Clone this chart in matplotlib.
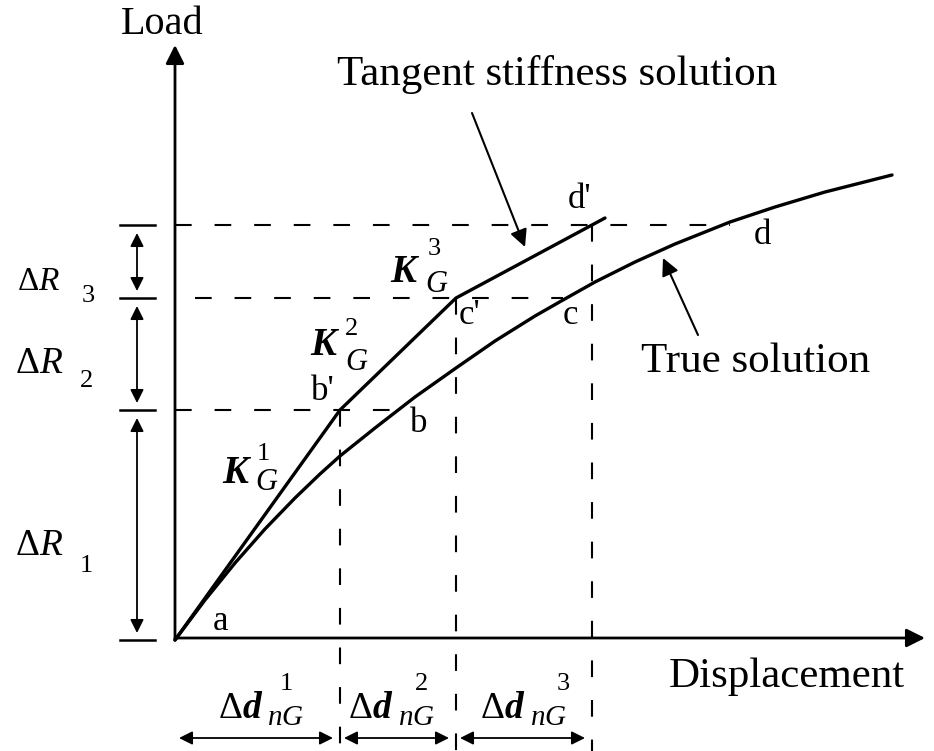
import matplotlib
matplotlib.use("Agg")
import matplotlib.pyplot as plt

# data in "pixel-like" units measured from the origin (a)
true_disp = [0, 30, 60, 90, 120, 145, 165, 200, 240, 281, 320, 360, 388,
             420, 460, 500, 555, 600, 650, 717]
true_load = [0, 40, 77, 111, 142, 166, 184, 212, 243, 272, 299, 324, 340,
             358, 378, 396, 418, 433, 448, 465]
tan_disp = [0, 165, 281, 417, 430]
tan_load = [0, 230, 342, 415, 422]
levels = [230, 342, 415]      # R1, R1+R2, R1+R2+R3
steps = [165, 281, 417]       # displacement at b', c', d'
level_start = [0, 20, 0]      # where the horizontal dashes start
level_stop = [215, 388, 555]  # where they meet the true curve

plt.rcParams['font.family'] = ['Liberation Serif', 'DejaVu Serif']
plt.rcParams['mathtext.fontset'] = 'custom'
plt.rcParams['mathtext.rm'] = 'Liberation Serif'
plt.rcParams['mathtext.it'] = 'Liberation Serif:italic'
plt.rcParams['mathtext.bf'] = 'Liberation Serif:italic:bold'

OX, OY = 175, 640


def px(x, y):
    return x - OX, OY - y


fig = plt.figure(figsize=(9.34, 7.51), dpi=100)
ax = fig.add_axes([0, 0, 1, 1])
ax.set_xlim(-OX, 934 - OX)
ax.set_ylim(OY - 751, OY)
ax.axis('off')

arrow = dict(arrowstyle='-|>', color='k', lw=2.0, mutation_scale=28,
             shrinkA=0, shrinkB=0)
# axes
ax.annotate('', xy=(0, 595), xytext=(0, 0), arrowprops=arrow)
ax.annotate('', xy=(750, 2), xytext=(0, 2), arrowprops=arrow)

# curves
ax.plot(true_disp, true_load, color='k', lw=2.4, solid_capstyle='round')
ax.plot(tan_disp, tan_load, color='k', lw=2.4, solid_capstyle='round')

# dashed guides
dash = dict(color='k', lw=1.5, dashes=(8, 11))
for lev, x0, x1 in zip(levels, level_start, level_stop):
    ax.plot([x0, x1], [lev, lev], **dash)
for st, lev in zip(steps, levels):
    ax.plot([st, st], [lev, OY - 751], **dash)

# left dimension marks
dim = dict(arrowstyle='<|-|>', color='k', lw=1.3, mutation_scale=20,
           shrinkA=0, shrinkB=0)
for lev in [0] + levels:
    ax.plot([-55, -20], [lev, lev], color='k', lw=1.8)
bounds = [0] + levels
for lo, hi in zip(bounds[:-1], bounds[1:]):
    ax.annotate('', xy=(-38, hi - 8), xytext=(-38, lo + 7), arrowprops=dim)

# bottom dimension arrows
xb = [0] + steps
yb = OY - 738
for lo, hi in zip(xb[:-1], xb[1:]):
    ax.annotate('', xy=(hi - 7, yb), xytext=(lo + 4, yb), arrowprops=dim)


def put(x, y, s, size, **kw):
    kw.setdefault('ha', 'left')
    kw.setdefault('va', 'baseline')
    ax.text(*px(x, y), s, fontsize=size, **kw)


put(162, 24, 'Load', 29, ha='center', va='center')
put(557, 75, 'Tangent stiffness solution', 31, ha='center', va='center')
put(756, 362, 'True solution', 31, ha='center', va='center')
put(787, 677, 'Displacement', 31, ha='center', va='center')

# annotation arrows
ax.annotate('', xy=px(525, 247), xytext=px(472, 113), arrowprops=dict(
    arrowstyle='-|>', color='k', lw=1.5, mutation_scale=26, shrinkA=0, shrinkB=0))
ax.annotate('', xy=px(663, 258), xytext=px(698, 335), arrowprops=dict(
    arrowstyle='-|>', color='k', lw=1.5, mutation_scale=26, shrinkA=0, shrinkB=0))

# delta R labels
for (x, yb_, xs, ys, k, sz) in [(17, 290, 82, 302, '3', 24),
                                 (15, 373, 80, 387, '2', 27),
                                 (15, 555, 80, 572, '1', 27)]:
    put(x, yb_, r'$\Delta R$', sz)
    put(xs, ys, k, 19)

# K_G labels
for (kx, ky, gx, gy, sx, sy, k) in [(222, 483, 255, 490, 257, 460, '1'),
                                     (310, 355, 345, 370, 345, 335, '2'),
                                     (390, 282, 425, 292, 428, 255, '3')]:
    put(kx, ky, r'$\mathbf{K}$', 28)
    put(gx, gy, r'$G$', 22)
    put(sx, sy, k, 19)

# delta d labels
for (dx, nx, sx, k) in [(218, 267, 280, '1'), (348, 398, 415, '2'),
                         (480, 530, 557, '3')]:
    put(dx, 718, r'$\Delta\mathbf{d}$', 27)
    put(nx, 725, r'$nG$', 21)
    put(sx, 690, k, 19)

# point labels
for (x, y, s) in [(221, 622, 'a'), (323, 392, "b'"), (419, 423, 'b'),
                  (469, 316, "c'"), (570, 315, 'c'), (580, 200, "d'"),
                  (762, 236, 'd')]:
    put(x, y, s, 25, ha='center', va='center')

fig.savefig('out.png', dpi=100)
